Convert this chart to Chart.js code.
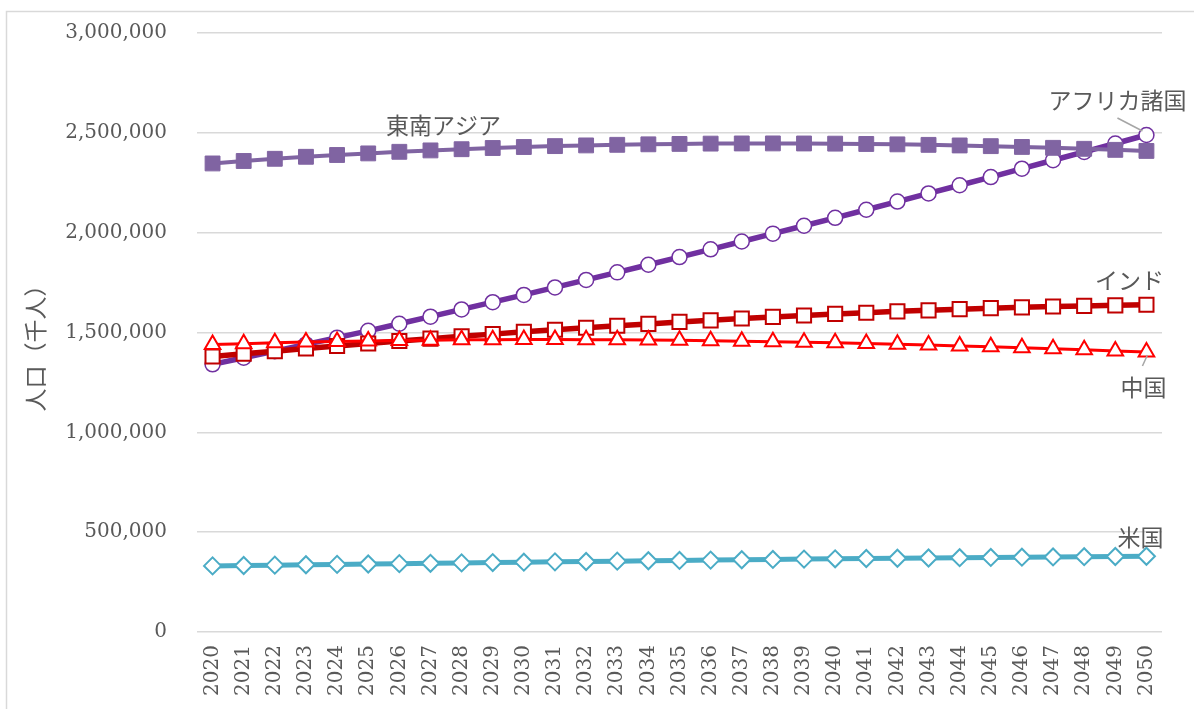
<!DOCTYPE html>
<html>
<head>
<meta charset="utf-8">
<script src="https://cdn.jsdelivr.net/npm/chart.js@4.4.1/dist/chart.umd.min.js"></script>
<style>
  html, body { margin: 0; padding: 0; background: #ffffff; }
  #wrap { width: 1194px; height: 709px; position: relative; }
  canvas { display: block; }
</style>
</head>
<body>
<div id="wrap"><canvas id="chart" width="1194" height="709"></canvas></div>
<script>
// 年次（カテゴリ）
const years = [
  '2020','2021','2022','2023','2024','2025','2026','2027','2028','2029',
  '2030','2031','2032','2033','2034','2035','2036','2037','2038','2039',
  '2040','2041','2042','2043','2044','2045','2046','2047','2048','2049','2050'
];

// 人口（千人）
const africa = [
  1340598, 1373486, 1406715, 1440278, 1474180, 1508405, 1543626, 1579364, 1615486, 1651855,
  1688321, 1725765, 1763386, 1801207, 1839285, 1877680, 1916471, 1955650, 1995130, 2034765,
  2074446, 2114932, 2155596, 2196411, 2237355, 2278416, 2320541, 2362593, 2404589, 2446536,
  2489275
];
const southeastAsia = [
  2346709, 2359000, 2370000, 2380000, 2389000, 2397000, 2405000, 2412000, 2418000, 2424000,
  2429000, 2433500, 2437000, 2440000, 2442500, 2444500, 2446000, 2446800, 2447000, 2446700,
  2445800, 2444300, 2442300, 2439800, 2436800, 2433300, 2429300, 2424900, 2420000, 2414800,
  2409300
];
const india = [
  1380004, 1393409, 1406632, 1419659, 1432482, 1445012, 1457218, 1469094, 1480640, 1491851,
  1503642, 1514000, 1524000, 1534000, 1543000, 1553000, 1561000, 1570000, 1578000, 1585000,
  1593000, 1599000, 1606000, 1611000, 1617000, 1622000, 1626000, 1630000, 1633000, 1636000,
  1639176
];
const china = [
  1439324, 1444216, 1448471, 1452098, 1455111, 1457818, 1460000, 1461800, 1463100, 1463900,
  1464340, 1464400, 1464100, 1463400, 1462300, 1460800, 1458900, 1456700, 1454200, 1451400,
  1448300, 1444900, 1441200, 1437200, 1432900, 1428400, 1423600, 1418500, 1413200, 1407900,
  1402405
];
const usa = [
  331003, 332915, 334805, 336698, 338569, 340443, 342300, 344100, 346000, 347800,
  349642, 351400, 353200, 354900, 356700, 358400, 360100, 361800, 363400, 365000,
  366572, 368000, 369400, 370800, 372100, 373400, 374700, 375900, 377100, 378300,
  379419
];

// 縦軸の目盛り
const yTicks = [0, 500000, 1000000, 1500000, 2000000, 2500000, 3000000];

const TEXT = '#595959';
const GRID = '#D9D9D9';
const NUM_FONT = 'DejaVu Serif';
const JP_FONT = '"Noto Sans CJK JP", sans-serif';

// 系列名ラベル（データ点を基準に配置）
const seriesLabels = [
  { ds: 1, idx: 7,  text: '東南アジア',   dx: 13,  dy: -25 },
  { ds: 0, idx: 30, text: 'アフリカ諸国', dx: -29, dy: -35, lead: [-29, -17, -4, -4] },
  { ds: 2, idx: 30, text: 'インド',       dx: -17, dy: -24 },
  { ds: 3, idx: 30, text: '中国',         dx: -3,  dy: 35,  lead: [-4, 14, 1, 3] },
  { ds: 4, idx: 30, text: '米国',         dx: -6,  dy: -19 }
];

const frameAndLabels = {
  id: 'frameAndLabels',
  beforeDraw(chart) {
    const ctx = chart.ctx;
    ctx.save();
    ctx.fillStyle = '#ffffff';
    ctx.fillRect(0, 0, chart.width, chart.height);
    ctx.strokeStyle = GRID;
    ctx.lineWidth = 1.5;
    ctx.beginPath();
    ctx.moveTo(6.5, chart.height);
    ctx.lineTo(6.5, 11.5);
    ctx.lineTo(chart.width, 11.5);
    ctx.stroke();
    ctx.restore();
  },
  afterDraw(chart) {
    const ctx = chart.ctx;
    ctx.save();
    // 縦軸タイトル
    ctx.fillStyle = TEXT;
    ctx.font = '23px ' + JP_FONT;
    ctx.textAlign = 'center';
    ctx.textBaseline = 'middle';
    ctx.translate(35, (chart.chartArea.top + chart.chartArea.bottom) / 2 + 10);
    ctx.rotate(-Math.PI / 2);
    ctx.fillText('人口（千人）', 0, 0);
    ctx.restore();

    ctx.save();
    ctx.font = '23px ' + JP_FONT;
    ctx.textAlign = 'center';
    ctx.textBaseline = 'middle';
    for (const l of seriesLabels) {
      const pt = chart.getDatasetMeta(l.ds).data[l.idx];
      if (l.lead) {
        ctx.strokeStyle = '#A6A6A6';
        ctx.lineWidth = 1.5;
        ctx.beginPath();
        ctx.moveTo(pt.x + l.lead[0], pt.y + l.lead[1]);
        ctx.lineTo(pt.x + l.lead[2], pt.y + l.lead[3]);
        ctx.stroke();
      }
      ctx.fillStyle = TEXT;
      ctx.fillText(l.text, pt.x + l.dx, pt.y + l.dy);
    }
    ctx.restore();
  }
};

new Chart(document.getElementById('chart'), {
  type: 'line',
  data: {
    labels: years,
    datasets: [
      {
        label: 'アフリカ諸国', data: africa, order: 5,
        borderColor: '#7030A0', borderWidth: 5.5,
        pointStyle: 'circle', pointRadius: 7.5,
        pointBackgroundColor: '#ffffff', pointBorderColor: '#7030A0', pointBorderWidth: 1.5
      },
      {
        label: '東南アジア', data: southeastAsia, order: 4,
        borderColor: '#8064A2', borderWidth: 4,
        pointStyle: 'rect', pointRadius: 10.5,
        pointBackgroundColor: '#8064A2', pointBorderColor: '#8064A2', pointBorderWidth: 1
      },
      {
        label: 'インド', data: india, order: 3,
        borderColor: '#C00000', borderWidth: 5.5,
        pointStyle: 'rect', pointRadius: 10,
        pointBackgroundColor: '#ffffff', pointBorderColor: '#C00000', pointBorderWidth: 2
      },
      {
        label: '中国', data: china, order: 2,
        borderColor: '#FF0000', borderWidth: 3,
        pointStyle: 'triangle', pointRadius: 9,
        pointBackgroundColor: '#ffffff', pointBorderColor: '#FF0000', pointBorderWidth: 2
      },
      {
        label: '米国', data: usa, order: 1,
        borderColor: '#4BACC6', borderWidth: 5,
        pointStyle: 'rectRot', pointRadius: 8.5,
        pointBackgroundColor: '#ffffff', pointBorderColor: '#4BACC6', pointBorderWidth: 2
      }
    ]
  },
  options: {
    responsive: false,
    devicePixelRatio: 1,
    animation: false,
    events: [],
    layout: { padding: { top: 33, right: 32, left: 0, bottom: 0 } },
    elements: { line: { tension: 0 } },
    plugins: {
      legend: { display: false },
      tooltip: { enabled: false }
    },
    scales: {
      x: {
        offset: true,
        grid: { display: false, drawTicks: false },
        border: { display: false },
        ticks: {
          autoSkip: false, maxRotation: 90, minRotation: 90, padding: 13,
          color: TEXT, font: { family: NUM_FONT, size: 20 }
        },
        afterFit(scale) { scale.height = 77; }
      },
      y: {
        min: yTicks[0], max: yTicks[yTicks.length - 1],
        afterBuildTicks(scale) { scale.ticks = yTicks.map(v => ({ value: v })); },
        grid: {
          color: GRID, lineWidth: 1.5,
          drawTicks: true, tickLength: 27, tickColor: 'rgba(0,0,0,0)'
        },
        border: { display: false },
        ticks: {
          padding: 3, color: TEXT, font: { family: NUM_FONT, size: 20 },
          callback: v => String(v).replace(/\B(?=(\d{3})+(?!\d))/g, ',')
        },
        afterFit(scale) { scale.width = 197; }
      }
    }
  },
  plugins: [frameAndLabels]
});
</script>
</body>
</html>
